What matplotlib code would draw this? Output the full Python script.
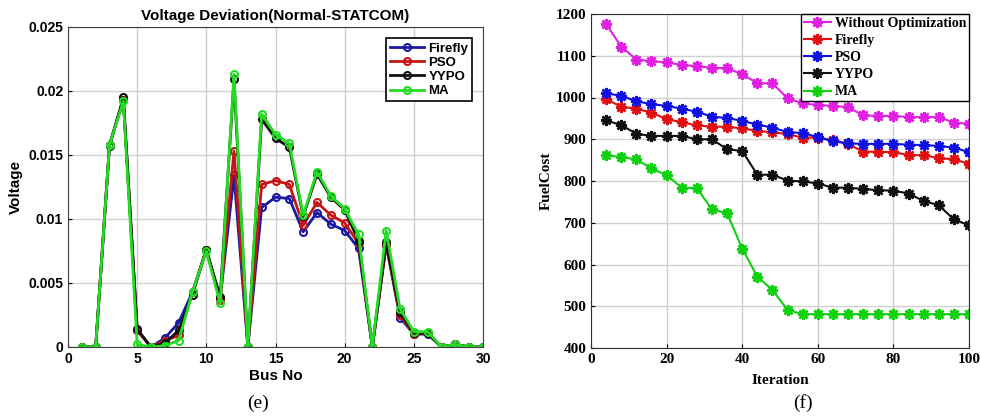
import matplotlib
matplotlib.use("Agg")
import matplotlib.pyplot as plt

# ----------------------------------------------------------------
# (e) Voltage deviation per bus
# ----------------------------------------------------------------
bus = list(range(1, 31))
v_firefly = [0, 0, 0.0158, 0.0193, 0.0013, 0, 0.0007, 0.0019, 0.0043, 0.0076,
             0.0038, 0.0134, 0, 0.0109, 0.0117, 0.0116, 0.0090, 0.0105, 0.0096, 0.0091,
             0.0077, 0, 0.0080, 0.0023, 0.0010, 0.0010, 0, 0.0002, 0, 0]
v_pso = [0, 0, 0.0158, 0.0193, 0.0013, 0, 0.0005, 0.0009, 0.0043, 0.0076,
         0.0037, 0.0153, 0, 0.0127, 0.0130, 0.0127, 0.0095, 0.0113, 0.0103, 0.0097,
         0.0081, 0, 0.0080, 0.0025, 0.0010, 0.0011, 0, 0.0002, 0, 0]
v_yypo = [0, 0, 0.0157, 0.0195, 0.0014, 0, 0.0003, 0.0013, 0.0041, 0.0076,
          0.0039, 0.0209, 0, 0.0178, 0.0163, 0.0156, 0.0102, 0.0135, 0.0117, 0.0107,
          0.0083, 0, 0.0082, 0.0027, 0.0011, 0.0011, 0, 0.0002, 0, 0]
v_ma = [0, 0, 0.0158, 0.0192, 0.0002, 0, 0.0001, 0.0005, 0.0043, 0.0075,
        0.0034, 0.0213, 0, 0.0182, 0.0166, 0.0159, 0.0103, 0.0137, 0.0118, 0.0108,
        0.0088, 0, 0.0091, 0.0030, 0.0012, 0.0012, 0, 0.0002, 0, 0]

# ----------------------------------------------------------------
# (f) Fuel cost convergence
# ----------------------------------------------------------------
iteration = list(range(4, 101, 4))
c_without = [1176, 1122, 1091, 1087, 1084, 1078, 1075, 1071, 1070, 1056,
             1034, 1034, 998, 986, 982, 980, 977, 957, 956, 956,
             953, 953, 953, 940, 937]
c_firefly = [996, 978, 973, 964, 948, 941, 933, 930, 930, 926,
             920, 917, 912, 904, 904, 898, 889, 870, 870, 869,
             862, 862, 855, 852, 841]
c_pso = [1010, 1004, 991, 984, 980, 973, 966, 954, 951, 944,
         935, 928, 917, 915, 905, 895, 890, 889, 889, 889,
         887, 886, 884, 880, 869]
c_yypo = [945, 934, 913, 908, 908, 908, 900, 900, 876, 872,
          815, 815, 801, 799, 794, 784, 784, 781, 778, 777,
          770, 752, 742, 708, 694]
c_ma = [862, 857, 852, 830, 814, 784, 783, 732, 723, 638,
        571, 539, 491, 481, 481, 481, 481, 481, 481, 481,
        481, 481, 481, 481, 481]

fig = plt.figure(figsize=(9.81, 4.18), dpi=100)
W, H = 981, 418

# left panel
sans = "Liberation Sans"
ax1 = fig.add_axes([68 / W, 1 - 347 / H, (483 - 68) / W, (347 - 27) / H])
ax1.plot(bus, v_firefly, "-o", color="#1a1aa0", lw=2, ms=5, mfc="none", mew=1.5, label="Firefly")
ax1.plot(bus, v_pso, "-o", color="#c81414", lw=2, ms=5, mfc="none", mew=1.5, label="PSO")
ax1.plot(bus, v_yypo, "-o", color="#101010", lw=2, ms=5, mfc="none", mew=1.5, label="YYPO")
ax1.plot(bus, v_ma, "-o", color="#22dd22", lw=2, ms=5, mfc="none", mew=1.5, label="MA")
ax1.set_xlim(0, 30)
ax1.set_ylim(0, 0.025)
ax1.set_xticks(range(0, 31, 5))
ax1.set_yticks([0, 0.005, 0.01, 0.015, 0.02, 0.025])
ax1.set_yticklabels(["0", "0.005", "0.01", "0.015", "0.02", "0.025"])
ax1.grid(True, color="#d0d0d0", lw=1)
ax1.set_axisbelow(True)
ax1.tick_params(direction="in", labelsize=10, length=3)
for lab in ax1.get_xticklabels() + ax1.get_yticklabels():
    lab.set_fontfamily(sans)
    lab.set_fontweight("bold")
for s in ax1.spines.values():
    s.set_color("#404040")
ax1.set_title("Voltage Deviation(Normal-STATCOM)", fontfamily=sans, fontweight="bold", fontsize=11, pad=5)
ax1.set_xlabel("Bus No", fontfamily=sans, fontweight="bold", fontsize=11, labelpad=2)
ax1.set_ylabel("Voltage", fontfamily=sans, fontweight="bold", fontsize=11, labelpad=4)
leg1 = ax1.legend(loc="upper right", bbox_to_anchor=(0.99, 0.985), prop={"family": sans, "weight": "bold", "size": 9.5},
                  fancybox=False, edgecolor="black", framealpha=1, handlelength=2.6, borderpad=0.3,
                  labelspacing=0.15, handletextpad=0.3)
leg1.get_frame().set_linewidth(1.2)

# right panel
serif = "Liberation Serif"
star = (8, 2, 0)
ax2 = fig.add_axes([591 / W, 1 - 348 / H, (969 - 591) / W, (348 - 14) / H])
ax2.plot(iteration, c_without, "-", marker=star, color="#e020e0", lw=1.5, ms=8, mew=1.8, label="Without Optimization")
ax2.plot(iteration, c_firefly, "-", marker=star, color="#e01010", lw=1.5, ms=8, mew=1.8, label="Firefly")
ax2.plot(iteration, c_pso, "-", marker=star, color="#1010e0", lw=1.5, ms=8, mew=1.8, label="PSO")
ax2.plot(iteration, c_yypo, "-", marker=star, color="#101010", lw=1.5, ms=8, mew=1.8, label="YYPO")
ax2.plot(iteration, c_ma, "-", marker=star, color="#10d010", lw=1.5, ms=8, mew=1.8, label="MA")
ax2.set_xlim(0, 100)
ax2.set_ylim(400, 1200)
ax2.set_xticks(range(0, 101, 20))
ax2.set_yticks(range(400, 1201, 100))
ax2.grid(True, color="#d0d0d0", lw=1)
ax2.set_axisbelow(True)
ax2.tick_params(direction="in", labelsize=11, length=3)
for lab in ax2.get_xticklabels() + ax2.get_yticklabels():
    lab.set_fontfamily(serif)
    lab.set_fontweight("bold")
for s in ax2.spines.values():
    s.set_color("#303030")
ax2.set_xlabel("Iteration", fontfamily=serif, fontweight="bold", fontsize=11, labelpad=6)
ax2.set_ylabel("FuelCost", fontfamily=serif, fontweight="bold", fontsize=11, labelpad=2)
leg2 = ax2.legend(loc="upper right", bbox_to_anchor=(1.0, 1.0), prop={"family": serif, "weight": "bold", "size": 10},
                  fancybox=False, edgecolor="black", framealpha=1, handlelength=1.9, borderpad=0.2,
                  labelspacing=0.3, handletextpad=0.3, borderaxespad=0)
leg2.get_frame().set_linewidth(1.0)

# captions
fig.text(258 / W, 1 - 403 / H, "(e)", ha="center", va="center", fontfamily=serif, fontsize=14)
fig.text(803 / W, 1 - 403 / H, "(f)", ha="center", va="center", fontfamily=serif, fontsize=14)

fig.savefig("out.png", dpi=100)
